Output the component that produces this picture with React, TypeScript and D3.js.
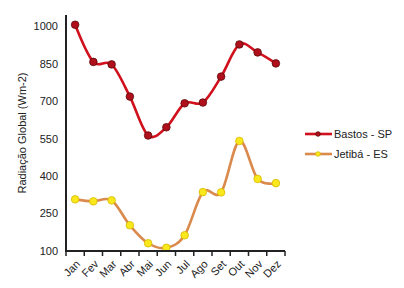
import React from "react";
import * as d3 from "d3";

const months = ["Jan", "Fev", "Mar", "Abr", "Mai", "Jun", "Jul", "Ago", "Set", "Out", "Nov", "Dez"];
const bastos = [1007, 858, 848, 719, 563, 596, 692, 695, 799, 928, 896, 852];
const jetiba = [307, 299, 303, 203, 131, 113, 163, 336, 335, 541, 389, 372];
const yTicks = [100, 250, 400, 550, 700, 850, 1000];
const seriesNames = ["Bastos - SP", "Jetibá - ES"];

const W = 404, H = 288;
const left = 66, right = 285, top = 15, bottom = 251;
const font = "Arial, 'Liberation Sans', sans-serif";

export default function App() {
  const x = d3.scaleBand<string>().domain(months).range([left, right]);
  const y = d3.scaleLinear().domain([100, 1046]).range([bottom, top]);
  const line = d3
    .line<number>()
    .x((_, i) => (x(months[i]) as number) + x.bandwidth() / 2)
    .y((d) => y(d))
    .curve(d3.curveCardinal.tension(0));

  const series = [
    { name: seriesNames[0], data: bastos, stroke: "#d0101c", fill: "#b0101c", mstroke: "#5a0a0a" },
    { name: seriesNames[1], data: jetiba, stroke: "#d98a4c", fill: "#f8e81c", mstroke: "#d8b800" },
  ];

  const boundaries = months.map((m) => x(m) as number).concat([right]);

  return (
    <svg width={W} height={H} style={{ position: "absolute", left: 0, top: 0, background: "#fff" }}>
      <rect width={W} height={H} fill="#fff" />
      {series.map((s) => (
        <g key={s.name}>
          <path d={line(s.data) || ""} fill="none" stroke={s.stroke} strokeWidth={2.6} />
          {s.data.map((v, i) => (
            <circle
              key={i}
              cx={(x(months[i]) as number) + x.bandwidth() / 2}
              cy={y(v)}
              r={3.8}
              fill={s.fill}
              stroke={s.mstroke}
              strokeWidth={0.8}
            />
          ))}
        </g>
      ))}
      <line x1={left} x2={left} y1={top} y2={bottom + 1} stroke="#222" strokeWidth={2} />
      <line x1={left - 1} x2={right} y1={bottom} y2={bottom} stroke="#222" strokeWidth={2} />
      {boundaries.map((b, i) => (
        <line key={i} x1={b} x2={b} y1={bottom} y2={bottom + 5} stroke="#222" strokeWidth={1.5} />
      ))}
      {yTicks.map((t) => (
        <text key={t} x={58} y={y(t)} dy="0.35em" textAnchor="end" fontSize={11} fontFamily={font} fill="#222">
          {t}
        </text>
      ))}
      {months.map((m) => {
        const cx = (x(m) as number) + x.bandwidth() / 2;
        return (
          <text
            key={m}
            transform={`translate(${cx + 3},${bottom + 11}) rotate(-45)`}
            textAnchor="end"
            dy="0.35em"
            fontSize={11}
            fontFamily={font}
            fill="#222"
          >
            {m}
          </text>
        );
      })}
      <text
        transform={`translate(26,${(top + bottom) / 2}) rotate(-90)`}
        textAnchor="middle"
        fontSize={11}
        fontFamily={font}
        fill="#222"
      >
        Radiação Global (Wm-2)
      </text>
      {series.map((s, i) => {
        const ly = 134 + i * 20;
        return (
          <g key={s.name}>
            <line x1={305} x2={332} y1={ly} y2={ly} stroke={s.stroke} strokeWidth={2.6} />
            <circle cx={318} cy={ly} r={2.3} fill={s.fill} stroke={s.mstroke} strokeWidth={0.8} />
            <text x={334} y={ly} dy="0.35em" fontSize={11} fontFamily={font} fill="#222">
              {s.name}
            </text>
          </g>
        );
      })}
    </svg>
  );
}
